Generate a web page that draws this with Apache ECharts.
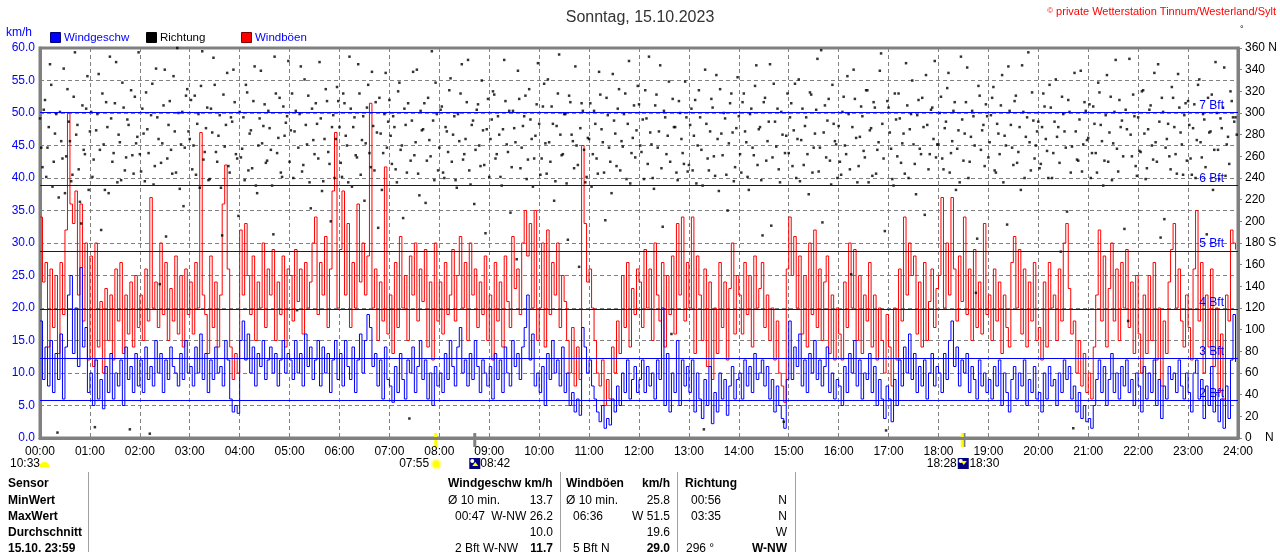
<!DOCTYPE html>
<html lang="de">
<head>
<meta charset="UTF-8" />
<title>Wind Sonntag, 15.10.2023</title>
<script src="https://cdn.jsdelivr.net/npm/echarts@6/dist/echarts.min.js"></script>
<style>
  html, body { margin: 0; padding: 0; background: #fff; }
  #main { width: 1280px; height: 552px; }
</style>
</head>
<body>
<div id="main"></div>
<script type="text/javascript">
// one value every 3 minutes, one row per hour
const STEP_MIN = 3;

const windSpeed = [
  18, 9, 14, 8, 15, 7, 13, 9, 16, 6, 14, 22, 25, 13, 20, 11, 26.2, 14, 17, 7,
  10, 5, 12, 6, 9, 4.5, 11, 7, 13, 6, 10, 8, 12, 5, 14, 9, 11, 7, 13, 8,
  12, 7, 14, 9, 11, 8, 15, 10, 13, 7, 12, 9, 14, 11, 10, 8, 13, 9, 15, 10,
  11, 8, 14, 10, 16, 9, 13, 7, 12, 9, 14, 10, 11, 8, 15, 12, 6, 4, 5, 3.8,
  15, 18, 12, 16, 10, 14, 8, 13, 11, 15, 9, 12, 14, 10, 13, 8, 12, 15, 10, 13,
  12, 9, 15, 10, 13, 8, 16, 11, 14, 9, 12, 15, 8, 14, 10, 13, 7, 12, 15, 9,
  13, 8, 15, 11, 9, 14, 7, 12, 16, 10, 15, 19, 17, 11, 13, 8, 12, 6, 14, 9,
  8, 5.5, 11, 7, 13, 9, 6, 12, 10, 14, 7, 11, 15, 9, 12, 6, 10, 5, 11, 8,
  10, 7, 13, 9, 15, 11, 8, 14, 17, 10, 12, 8, 13, 9, 15, 11, 7, 12, 10, 8,
  11, 6, 13, 9, 12, 7, 14, 10, 8, 15, 11, 13, 9, 14, 17, 22, 12, 16, 8, 10,
  7, 11, 5, 13, 9, 15, 10, 12, 8, 14, 7, 10, 5, 7, 4, 6, 3.5, 17, 14, 10,
  12, 8, 6, 4, 2.5, 5, 1.5, 3, 2, 6, 4, 8, 5, 10, 7, 12, 6, 9, 11, 7,
  9, 12, 7, 11, 8, 10, 6, 12, 9, 20, 5, 13, 4, 10, 7, 15, 5, 12, 8, 11,
  7, 12, 4, 10, 6, 3, 9, 5, 11, 2.2, 7, 4, 10, 6, 9, 3.5, 8, 11, 6, 9,
  10, 6, 12, 8, 11, 7, 13, 9, 10, 12, 8, 11, 6, 9, 4, 8, 5, 3, 1.5, 9,
  18, 9, 14, 11, 16, 8, 12, 7, 13, 10, 15, 9, 12, 8, 11, 14, 7, 10, 6, 9,
  8, 5, 11, 7, 13, 10, 15, 8, 12, 6, 10, 9, 13, 7, 11, 5, 9, 6, 3, 8,
  6, 2.5, 9, 5, 12, 8, 14, 10, 16, 9, 13, 7, 11, 8, 12, 6, 10, 13, 8, 11,
  10, 7, 13, 9, 15, 18, 11, 14, 8, 12, 10, 13, 7, 11, 9, 6, 12, 8, 10, 7,
  9, 6, 11, 8, 12, 5, 10, 7, 4, 9, 11, 6, 10, 8, 12, 5, 9, 7, 11, 6,
  7, 4, 10, 6, 11, 8, 9, 5, 10, 7, 12, 9, 11, 6, 8, 4, 7, 3, 5, 2.5,
  3, 1.5, 5, 9, 12, 7, 11, 5, 9, 13, 7, 10, 6, 11, 8, 12, 7, 9, 5, 10,
  8, 4, 11, 6, 10, 7, 12, 5, 9, 3, 8, 6, 11, 9, 10, 7, 12, 8, 6, 10,
  7, 4, 10, 12, 6, 9, 3, 8, 5, 11, 4, 7, 2.5, 6, 1.5, 8, 3, 12, 19, 11.7
];

const windGust = [
  34, 24, 27, 14, 26, 17, 25, 13, 27, 19, 32, 50, 36, 33, 38, 22, 36, 18, 30, 12,
  28, 11, 30, 14, 21, 10, 23, 15, 22, 12, 26, 18, 27, 13, 22, 16, 24, 14, 25, 17,
  22, 15, 26, 18, 37, 20, 24, 17, 30, 19, 27, 15, 23, 18, 28, 16, 25, 14, 26, 19,
  24, 16, 27, 20, 47, 22, 19, 13, 28, 17, 24, 14, 22, 36, 42, 26, 14, 9, 13, 10,
  32, 22, 33, 25, 19, 28, 15, 24, 20, 30, 17, 26, 22, 29, 15, 24, 19, 28, 14, 26,
  25, 18, 29, 21, 26, 16, 27, 20, 24, 30, 34, 19, 27, 22, 31, 17, 26, 38, 47, 20,
  29, 38, 22, 33, 17, 27, 20, 36, 24, 30, 22, 28, 51.5, 20, 26, 15, 24, 18, 41.7, 16,
  22, 13, 27, 17, 31, 20, 25, 15, 28, 22, 30, 18, 26, 21, 29, 14, 24, 12, 30, 18,
  24, 16, 27, 19, 22, 29, 18, 25, 31, 20, 27, 15, 30, 22, 26, 17, 24, 19, 28, 15,
  22, 12, 27, 18, 24, 14, 28, 21, 17, 31, 23, 26, 19, 30, 35, 28, 33, 20, 35, 15,
  20, 30, 14, 32, 19, 27, 22, 30, 17, 25, 21, 15, 10, 17, 8, 14, 9, 45, 33, 24,
  26, 20, 15, 10, 8, 12, 5, 9, 6, 14, 10, 18, 13, 25, 17, 27, 14, 23, 19, 26,
  24, 17, 29, 20, 26, 15, 30, 22, 18, 27, 14, 25, 19, 28, 16, 33, 22, 34, 18, 27,
  20, 34, 13, 28, 22, 15, 26, 11, 24, 9, 20, 13, 27, 17, 24, 12, 23, 30, 16, 25,
  22, 16, 27, 19, 25, 14, 28, 20, 23, 27, 17, 22, 15, 20, 12, 18, 10, 8, 5.5, 26,
  34, 25, 31, 20, 28, 16, 25, 14, 30, 19, 32, 17, 26, 15, 24, 28, 13, 22, 12, 20,
  16, 12, 24, 17, 30, 20, 29, 15, 25, 13, 22, 18, 27, 14, 22, 12, 20, 15, 10, 19,
  14, 8, 20, 12, 26, 18, 34, 22, 30, 25, 28, 16, 24, 14, 27, 15, 21, 26, 17, 23,
  25, 37, 20, 30, 22, 37, 26, 18, 28, 21, 34, 19, 26, 15, 29, 17, 24, 16, 33, 19,
  22, 15, 26, 18, 24, 13, 22, 17, 14, 27, 31, 20, 29, 16, 26, 14, 24, 18, 27, 15,
  17, 12, 24, 14, 27, 20, 22, 15, 26, 18, 30, 33, 23, 16, 18, 10, 15, 8, 13, 7,
  10, 6, 14, 22, 32, 18, 28, 14, 23, 30, 18, 26, 15, 27, 20, 29, 17, 24, 13, 25,
  16, 10, 22, 13, 25, 15, 27, 12, 20, 8, 18, 13, 24, 29, 33, 20, 26, 18, 14, 22,
  17, 12, 26, 35, 18, 27, 10, 22, 14, 26, 11, 20, 7, 16, 6, 22, 18, 32, 30, 29
];

// direction readings on the full 3-minute mark
const windDir = [
  295, 250, 312, 268, 345, 232, 281, 5, 301, 258, 226, 322, 274, 243, 356, 289, 218, 307, 262, 334,
  283, 241, 10, 299, 266, 318, 229, 287, 352, 255, 309, 236, 273, 328, 247, 294, 8, 261, 315, 278,
  262, 304, 237, 285, 4, 327, 251, 296, 142, 272, 340, 258, 311, 244, 283, 360, 230, 301, 268, 322,
  276, 248, 316, 290, 231, 357, 264, 305, 239, 282, 326, 255, 298, 187, 269, 337, 245, 292, 310, 258,
  301, 267, 238, 319, 281, 249, 343, 226, 295, 272, 308, 256, 286, 233, 352, 263, 314, 241, 279, 297,
  255, 318, 283, 118, 299, 246, 331, 271, 236, 304, 262, 290, 347, 228, 276, 311, 253, 287, 240, 324,
  287, 241, 309, 270, 352, 232, 296, 259, 318, 275, 219, 305, 263, 338, 247, 282, 314, 229, 299, 268,
  312, 253, 287, 236, 328, 270, 304, 245, 18, 293, 261, 340, 224, 284, 309, 256, 275, 357, 238, 299,
  268, 306, 240, 283, 321, 255, 297, 231, 274, 345, 262, 310, 247, 289, 216, 303, 270, 330, 252, 285,
  241, 294, 317, 262, 280, 233, 349, 271, 302, 250, 286, 165, 313, 268, 297, 239, 322, 276, 258, 308,
  290, 258, 327, 244, 273, 306, 219, 288, 354, 261, 299, 235, 316, 280, 249, 270, 158, 309, 266, 241,
  276, 232, 302, 258, 338, 285, 245, 314, 268, 226, 293, 251, 322, 274, 299, 239, 348, 263, 307, 284,
  308, 264, 239, 295, 352, 271, 230, 317, 283, 249, 302, 262, 329, 96, 287, 245, 311, 276, 253, 296,
  252, 304, 279, 235, 321, 266, 8, 290, 247, 313, 260, 335, 228, 281, 300, 243, 272, 318, 237, 286,
  297, 245, 318, 273, 229, 304, 261, 344, 285, 238, 310, 256, 292, 196, 327, 269, 248, 301, 15, 279,
  263, 309, 284, 240, 331, 275, 252, 296, 225, 317, 268, 303, 246, 358, 282, 259, 313, 234, 290, 271,
  288, 243, 315, 262, 299, 151, 340, 277, 251, 306, 265, 321, 236, 286, 310, 244, 273, 355, 258, 7,
  305, 267, 233, 294, 318, 254, 281, 346, 240, 299, 271, 225, 312, 262, 287, 335, 248, 303, 276, 259,
  271, 315, 248, 292, 337, 263, 302, 229, 284, 352, 256, 310, 240, 278, 297, 134, 325, 266, 289, 308,
  259, 298, 324, 245, 281, 307, 236, 270, 343, 289, 252, 316, 264, 229, 301, 278, 356, 247, 293, 270,
  292, 253, 318, 276, 240, 305, 263, 331, 287, 172, 299, 268, 312, 245, 9, 283, 256, 339, 271, 302,
  277, 240, 306, 263, 328, 289, 233, 298, 255, 315, 272, 349, 246, 287, 260, 303, 108, 280, 317, 251,
  296, 264, 321, 239, 285, 307, 257, 273, 345, 185, 301, 268, 290, 248, 314, 262, 336, 282, 243, 309,
  311, 258, 286, 240, 326, 273, 299, 250, 314, 283, 229, 347, 266, 295, 305, 242, 278, 320, 296, 296
];

// direction readings half way between the 3-minute marks
const windDirMid = [
  268, 303, 241, 287, 326, 255, 299, 222, 274, 341, 260, 292, 237, 315, 280, 248, 198, 266, 304, 229,
  301, 257, 284, 336, 192, 271, 310, 226, 295, 263, 347, 280, 238, 305, 259, 289, 321, 244, 272, 356,
  246, 281, 319, 263, 298, 234, 341, 276, 254, 307, 186, 289, 266, 334, 245, 300, 271, 214, 316, 283,
  312, 270, 243, 299, 325, 257, 286, 238, 304, 351, 264, 279, 231, 317, 289, 251, 296, 340, 262, 205,
  259, 296, 326, 247, 284, 311, 233, 270, 339, 288, 254, 302, 266, 188, 318, 277, 245, 306, 291, 348,
  284, 240, 302, 268, 343, 252, 289, 316, 212, 275, 309, 258, 295, 237, 322, 264, 200, 298, 276, 311,
  254, 318, 279, 236, 304, 287, 261, 345, 243, 297, 272, 326, 250, 288, 310, 194, 281, 263, 337, 292,
  279, 297, 248, 320, 266, 203, 289, 309, 256, 338, 273, 244, 302, 285, 217, 314, 260, 293, 328, 247,
  303, 245, 287, 264, 332, 280, 238, 299, 318, 257, 276, 349, 234, 293, 266, 308, 251, 284, 189, 313,
  276, 320, 258, 297, 241, 285, 311, 264, 208, 302, 273, 339, 249, 288, 316, 257, 294, 232, 279, 346,
  243, 306, 272, 331, 255, 290, 237, 318, 280, 262, 299, 183, 310, 274, 343, 252, 286, 302, 236, 277,
  309, 262, 290, 244, 317, 273, 201, 298, 255, 336, 281, 304, 247, 269, 318, 290, 235, 277, 259, 325,
  270, 294, 321, 253, 282, 240, 307, 268, 344, 195, 296, 279, 255, 313, 287, 238, 300, 263, 329, 246,
  289, 247, 312, 270, 296, 233, 340, 258, 283, 305, 242, 276, 322, 261, 295, 210, 309, 282, 250, 333,
  262, 310, 283, 241, 299, 268, 325, 252, 287, 187, 314, 274, 345, 259, 292, 304, 236, 280, 263, 318,
  296, 251, 327, 276, 237, 304, 288, 262, 319, 245, 281, 350, 268, 199, 307, 293, 256, 326, 274, 240,
  255, 301, 270, 334, 248, 287, 313, 236, 278, 297, 259, 321, 284, 242, 305, 266, 339, 290, 191, 311,
  282, 239, 318, 260, 295, 272, 244, 307, 285, 330, 253, 298, 267, 314, 206, 289, 262, 305, 348, 271,
  300, 258, 286, 323, 245, 274, 310, 267, 236, 294, 281, 342, 255, 302, 270, 184, 316, 284, 251, 297,
  273, 314, 247, 290, 262, 335, 279, 197, 302, 268, 311, 254, 287, 344, 240, 296, 273, 319, 258, 283,
  249, 287, 306, 265, 326, 240, 292, 278, 254, 315, 283, 209, 301, 269, 337, 257, 294, 246, 310, 275,
  308, 263, 290, 245, 319, 274, 256, 335, 282, 238, 301, 267, 312, 293, 193, 285, 350, 260, 297, 242,
  265, 320, 281, 249, 303, 270, 337, 255, 292, 314, 202, 276, 260, 324, 287, 244, 305, 271, 298, 256,
  289, 243, 308, 275, 331, 259, 294, 188, 282, 317, 266, 300, 239, 286, 342, 271, 253, 311, 292, 280
];

// Beaufort limits in km/h
const bftLimits = [5.76, 12.24, 19.8, 28.8, 38.88, 50.04];
const bftNames = ['2 Bft', '3 Bft', '4 Bft', '5 Bft', '6 Bft', '7 Bft'];
const dirLabels = { 0: '0    N', 180: '180 S', 360: '360 N' };

const dayLength = '10:33';
const sunRise = '07:55';
const sunSet = '18:28';
const moonRise = '08:42';
const moonSet = '18:30';

const tableRowNames = ['Sensor', 'MinWert', 'MaxWert', 'Durchschnitt', '15.10. 23:59'];
const speedLeft = ['Windgeschw km/h', 'Ø 10 min.', '00:47', '', '2 Bft W-NW'];
const speedRight = ['', '13.7', 'W-NW 26.2', '10.0', '11.7'];
const gustLeft = ['Windböen', 'Ø 10 min.', '06:36', '', '5 Bft N'];
const gustRight = ['km/h', '25.8', 'W 51.5', '19.6', '29.0'];
const dirLeft = ['Richtung', '00:56', '03:35', '', '296 °'];
const dirRight = ['', 'N', 'N', 'W', 'W-NW'];

const FONT = 'Liberation Sans, Arial, sans-serif';
const pad = n => (n < 10 ? '0' + n : '' + n);
const toMin = s => {
  const p = s.split(':').map(Number);
  return p[0] * 60 + p[1];
};
const times = windSpeed.map((v, i) => i * STEP_MIN);

const chart = echarts.init(document.getElementById('main'));

const dirPoints = windDir
  .map((v, i) => [times[i], v])
  .concat(windDirMid.map((v, i) => [times[i] + STEP_MIN / 2, v]));

const option = {
  animation: false,
  textStyle: { fontFamily: FONT },
  title: {
    text: 'Sonntag, 15.10.2023',
    left: 'center',
    top: 5,
    textStyle: { fontSize: 16, fontWeight: 'normal', color: '#333', fontFamily: FONT },
  },
  grid: {
    left: 40,
    right: 40,
    top: 48,
    bottom: 114,
    show: true,
    borderColor: '#808080',
    borderWidth: 3,
  },
  xAxis: {
    type: 'value',
    min: 0,
    max: 1440,
    interval: 60,
    axisLine: { show: true, lineStyle: { color: '#808080', width: 3 } },
    axisTick: { show: false },
    axisLabel: {
      color: '#000',
      fontSize: 12,
      margin: 8,
      formatter: v => pad(Math.floor(v / 60)) + ':00',
    },
    splitLine: { show: true, lineStyle: { color: '#808080', type: [4, 3], width: 1 } },
  },
  yAxis: [
    {
      type: 'value',
      min: 0,
      max: 60,
      interval: 5,
      axisLine: { show: true, lineStyle: { color: '#808080', width: 3 } },
      axisTick: { show: false },
      axisLabel: { color: '#0000ff', fontSize: 12, margin: 5, formatter: v => v.toFixed(1) },
      splitLine: { show: true, lineStyle: { color: '#808080', type: [4, 3], width: 1 } },
    },
    {
      type: 'value',
      position: 'right',
      min: 0,
      max: 360,
      interval: 20,
      axisLine: { show: true, lineStyle: { color: '#808080', width: 3 } },
      axisTick: { show: true, length: 4, lineStyle: { color: '#808080', width: 1 } },
      splitLine: { show: false },
      axisLabel: {
        margin: 7,
        color: '#000',
        fontSize: 12,
        formatter: v => dirLabels[v] || '' + v,
      },
    },
  ],
  series: [
    {
      name: 'Windböen',
      type: 'line',
      step: 'end',
      showSymbol: false,
      data: windGust.map((v, i) => [times[i], v]),
      lineStyle: { color: '#ff0000', width: 1 },
      itemStyle: { color: '#ff0000' },
      z: 2,
    },
    {
      name: 'Windgeschw',
      type: 'line',
      step: 'end',
      showSymbol: false,
      data: windSpeed.map((v, i) => [times[i], v]),
      lineStyle: { color: '#0000ff', width: 1 },
      itemStyle: { color: '#0000ff' },
      z: 3,
      markLine: {
        silent: true,
        symbol: 'none',
        lineStyle: { color: '#0000ff', type: 'solid', width: 1 },
        label: {
          position: 'insideEndTop',
          distance: [14, 1],
          color: '#0000ff',
          fontSize: 12,
          fontFamily: FONT,
          formatter: '{b}',
        },
        data: bftLimits.map((v, i) => ({ yAxis: v, name: bftNames[i] })),
      },
    },
    {
      name: 'Richtung',
      type: 'scatter',
      yAxisIndex: 1,
      symbol: 'rect',
      symbolSize: 2.5,
      itemStyle: { color: '#000' },
      data: dirPoints,
      z: 4,
    },
  ],
};
chart.setOption(option);

// everything around the plot: legend, sun/moon row, table
const px = t => chart.convertToPixel({ xAxisIndex: 0 }, toMin(t));
const txt = (x, y, text, opts) => ({
  type: 'text',
  x: x,
  y: y,
  style: Object.assign(
    { text: text, fill: '#000', font: '12px ' + FONT, textVerticalAlign: 'middle' },
    opts || {}
  ),
});
const boldFont = 'bold 12px ' + FONT;

const graphics = [];
// header bits
graphics.push(
  txt(1276, 12, '{c|©} private Wetterstation Tinnum/Westerland/Sylt', {
    fill: '#ff0000',
    font: '11px ' + FONT,
    textAlign: 'right',
    rich: { c: { fontSize: 8, fill: '#ff0000', verticalAlign: 'top' } },
  })
);
graphics.push(txt(6, 33, 'km/h', { fill: '#0000ff' }));
graphics.push(txt(1240, 30, '°', { font: '9px ' + FONT }));

// legend
const legendItems = [
  { x: 50, color: '#0000ff', border: '#00007f', text: 'Windgeschw', textColor: '#0000ff' },
  { x: 146, color: '#000000', border: '#000000', text: 'Richtung', textColor: '#000' },
  { x: 241, color: '#ff0000', border: '#7f0000', text: 'Windböen', textColor: '#0000ff' },
];
legendItems.forEach(it => {
  graphics.push({
    type: 'rect',
    shape: { x: it.x + 0.5, y: 32.5, width: 10, height: 10 },
    style: { fill: it.color, stroke: it.border, lineWidth: 1 },
  });
  graphics.push(txt(it.x + 14, 38, it.text, { fill: it.textColor, font: '11.5px ' + FONT }));
});

// sun / moon markers on the time axis
const xr = px(sunRise), xs = px(sunSet), xmr = px(moonRise), xms = px(moonSet);
graphics.push({ type: 'rect', shape: { x: xms - 1, y: 433, width: 3, height: 14 }, style: { fill: '#808080' } });
graphics.push({ type: 'rect', shape: { x: xmr - 1, y: 433, width: 3, height: 14 }, style: { fill: '#808080' } });
graphics.push({ type: 'rect', shape: { x: xr - 1, y: 433, width: 3, height: 14 }, style: { fill: '#ffff00' } });
graphics.push({ type: 'rect', shape: { x: xs - 1, y: 433, width: 3, height: 14 }, style: { fill: '#ffff00' } });

graphics.push(txt(10, 464, dayLength));
graphics.push({
  type: 'sector',
  shape: { cx: 44.5, cy: 467, r: 5, r0: 0, startAngle: Math.PI, endAngle: Math.PI * 2, clockwise: true },
  style: { fill: '#ffff00' },
});
graphics.push(txt(xr - 6, 464, sunRise, { textAlign: 'right' }));
graphics.push({ type: 'circle', shape: { cx: xr + 1, cy: 464, r: 5.5 }, style: { fill: '#ffffa0' } });
graphics.push({ type: 'circle', shape: { cx: xr + 1, cy: 464, r: 3.5 }, style: { fill: '#ffff00' } });

const moonIcon = (x0, up) => {
  graphics.push({ type: 'rect', shape: { x: x0, y: 458, width: 11, height: 11 }, style: { fill: '#000080' } });
  graphics.push({ type: 'circle', shape: { cx: x0 + 3, cy: 461, r: 2 }, style: { fill: '#ffffff' } });
  graphics.push({
    type: 'polygon',
    shape: {
      points: up
        ? [[x0 + 6, 462], [x0 + 9, 466], [x0 + 3, 466]]
        : [[x0 + 3, 461], [x0 + 9, 461], [x0 + 6, 465]],
    },
    style: { fill: '#ffff00' },
  });
};
moonIcon(xmr - 5, true);
graphics.push(txt(xmr + 6, 464, moonRise));
graphics.push(txt(xs - 5, 464, sunSet, { textAlign: 'right' }));
moonIcon(xs - 4, false);
graphics.push(txt(xms + 6, 464, moonSet));

// table
const rowY = [484, 501, 517, 533, 549];
[88, 560, 677, 795].forEach(x => {
  graphics.push({
    type: 'line',
    shape: { x1: x + 0.5, y1: 472, x2: x + 0.5, y2: 552 },
    style: { stroke: '#a0a0a0', lineWidth: 1 },
  });
});
tableRowNames.forEach((name, i) => {
  graphics.push(txt(8, rowY[i], name, { font: boldFont }));
});
const leftX = {
  speed: [448, 448, 455, 455, 455],
  gust: [566, 566, 573, 573, 573],
  dir: [685, 691, 691, 691, 686],
};
const columns = [
  { left: speedLeft, right: speedRight, lx: leftX.speed, rx: 553 },
  { left: gustLeft, right: gustRight, lx: leftX.gust, rx: 670 },
  { left: dirLeft, right: dirRight, lx: leftX.dir, rx: 787 },
];
columns.forEach(col => {
  col.left.forEach((t, i) => {
    if (t) graphics.push(txt(col.lx[i], rowY[i], t, { font: i === 0 ? boldFont : '12px ' + FONT }));
  });
  col.right.forEach((t, i) => {
    if (t)
      graphics.push(
        txt(col.rx, rowY[i], t, {
          textAlign: 'right',
          font: i === 0 || i === 4 ? boldFont : '12px ' + FONT,
        })
      );
  });
});

chart.setOption({ graphic: graphics });
</script>
</body>
</html>
